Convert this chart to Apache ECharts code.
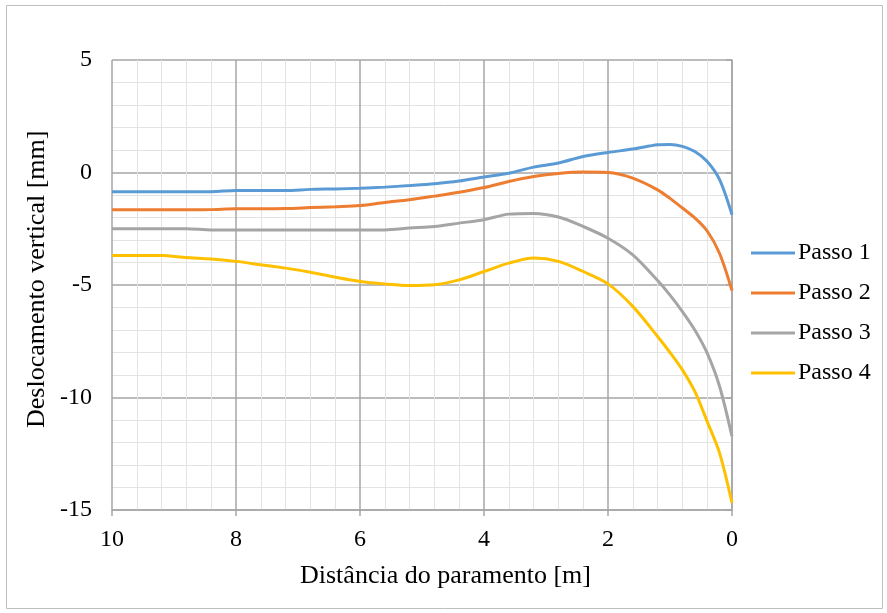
<!DOCTYPE html>
<html>
<head>
<meta charset="utf-8">
<script src="https://cdn.jsdelivr.net/npm/echarts@6/dist/echarts.min.js"></script>
<style>
html,body{margin:0;padding:0;background:#fff;}
#chart{width:887px;height:613px;}
</style>
</head>
<body>
<div id="chart"></div>
<script>
const distances = [0, 0.2, 0.4, 0.6, 0.8, 1.0, 1.2, 1.6, 2, 2.4, 2.8, 3.2, 3.6, 4, 4.4, 4.8, 5.2, 5.6, 6, 6.4, 6.8, 7.2, 7.6, 8, 8.4, 8.8, 9.2, 9.6, 10];
const passo1 = [-1.88, -0.32, 0.49, 0.93, 1.16, 1.25, 1.23, 1.04, 0.89, 0.71, 0.42, 0.24, -0.03, -0.2, -0.38, -0.5, -0.58, -0.65, -0.7, -0.73, -0.75, -0.8, -0.8, -0.8, -0.85, -0.85, -0.85, -0.85, -0.85];
const passo2 = [-5.25, -3.6, -2.6, -2.02, -1.58, -1.15, -0.77, -0.25, 0, 0.02, -0.04, -0.18, -0.4, -0.67, -0.88, -1.05, -1.21, -1.33, -1.47, -1.52, -1.56, -1.6, -1.61, -1.61, -1.65, -1.66, -1.66, -1.66, -1.66];
const passo3 = [-11.73, -9.51, -8.03, -7.0, -6.18, -5.45, -4.8, -3.66, -2.92, -2.4, -1.98, -1.82, -1.85, -2.1, -2.25, -2.4, -2.47, -2.55, -2.55, -2.55, -2.55, -2.55, -2.55, -2.55, -2.55, -2.5, -2.5, -2.5, -2.5];
const passo4 = [-14.69, -12.47, -11.07, -9.73, -8.77, -8.0, -7.29, -5.95, -4.95, -4.4, -3.95, -3.8, -4.03, -4.4, -4.77, -4.99, -5.02, -4.95, -4.84, -4.65, -4.43, -4.25, -4.1, -3.95, -3.84, -3.78, -3.69, -3.69, -3.69];
const seriesNames = ['Passo 1', 'Passo 2', 'Passo 3', 'Passo 4'];
const xTitle = 'Distância do paramento [m]';
const yTitle = 'Deslocamento vertical [mm]';

const colors = ['#5B9BD5', '#ED7D31', '#A5A5A5', '#FFC000'];
const font = '"Liberation Serif", "Times New Roman", serif';
const allSeries = [passo1, passo2, passo3, passo4];

const chart = echarts.init(document.getElementById('chart'), null, {renderer: 'canvas'});
chart.setOption({
  animation: false,
  backgroundColor: '#fff',
  color: colors,
  grid: {left: 112, right: 155, top: 60, bottom: 103, containLabel: false},
  xAxis: {
    type: 'value', min: 0, max: 10, interval: 2, inverse: true,
    axisLine: {show: true, onZero: false, lineStyle: {color: '#a6a6a6', width: 1.5}},
    axisTick: {show: true, length: 6, lineStyle: {color: '#a6a6a6', width: 1.5}},
    minorTick: {show: false, splitNumber: 5},
    splitLine: {show: true, lineStyle: {color: '#a6a6a6', width: 1.5}},
    minorSplitLine: {show: true, lineStyle: {color: '#e3e3e3', width: 1}},
    axisLabel: {color: '#000', fontFamily: font, fontSize: 24, margin: 18}
  },
  yAxis: {
    type: 'value', min: -15, max: 5, interval: 5,
    axisLine: {show: true, lineStyle: {color: '#a6a6a6', width: 1.5}},
    axisTick: {show: true, length: 6, lineStyle: {color: '#a6a6a6', width: 1.5}},
    minorTick: {show: false, splitNumber: 5},
    splitLine: {show: true, lineStyle: {color: '#a6a6a6', width: 1.5}},
    minorSplitLine: {show: true, lineStyle: {color: '#e3e3e3', width: 1}},
    axisLabel: {color: '#000', fontFamily: font, fontSize: 24, margin: 20}
  },
  legend: {
    orient: 'vertical', left: 746, top: 236, itemGap: 16,
    itemWidth: 44, itemHeight: 3, icon: 'rect',
    textStyle: {color: '#000', fontFamily: font, fontSize: 24, padding: [0, 0, 0, -2]},
    data: seriesNames
  },
  series: allSeries.map((vals, i) => ({
    name: seriesNames[i], type: 'line', smooth: 0.3, showSymbol: false, symbol: 'none',
    lineStyle: {width: 3, color: colors[i]},
    data: distances.map((d, j) => [d, vals[j]])
  })),
  graphic: [
    {type: 'rect', shape: {x: 6.5, y: 5.5, width: 876, height: 603}, style: {fill: 'none', stroke: '#bfbfbf', lineWidth: 1}, silent: true, z: -1},
    {type: 'text', left: 300, top: 563, style: {text: xTitle, fill: '#000', font: '26px ' + font}},
    {type: 'text', rotation: Math.PI / 2, x: 24, y: 428, style: {text: yTitle, fill: '#000', font: '26px ' + font}}
  ]
});
</script>
</body>
</html>
